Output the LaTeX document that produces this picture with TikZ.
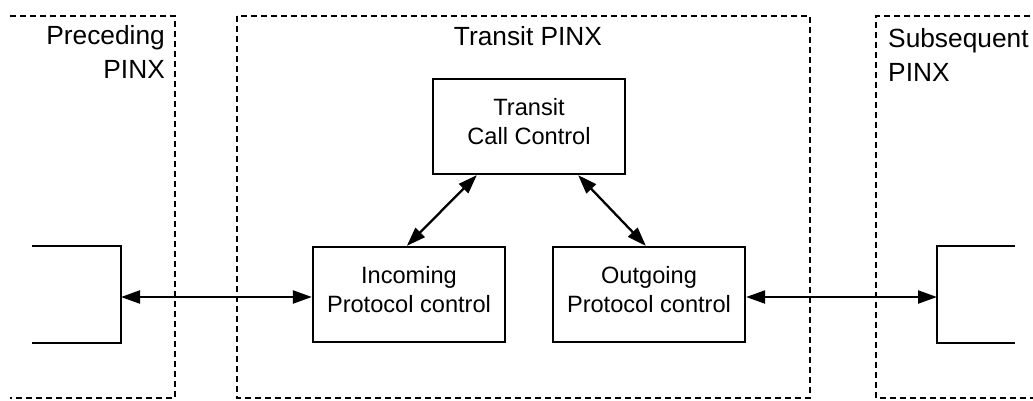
\documentclass[tikz,border=0pt]{standalone}
\usepackage{fontspec}
\setmainfont{Liberation Sans}
\usetikzlibrary{arrows.meta,calc}
\begin{document}
\begin{tikzpicture}[x=1pt,y=-1pt,
  zone/.style={line width=2pt,dash pattern=on 6pt off 4pt},
  block/.style={draw,line width=2.3pt,inner sep=0pt,minimum width=192pt,minimum height=95pt,
    align=center,font=\fontsize{23.6}{29}\selectfont,
    execute at end node={\rule[-11pt]{0pt}{0pt}}},
  stub/.style={line width=2.3pt},
  link/.style={line width=2.3pt,{Triangle[length=19pt,width=13pt]}-{Triangle[length=19pt,width=13pt]}},
  lbl/.style={inner sep=0pt,font=\fontsize{26.3}{33.5}\selectfont}]
\useasboundingbox (0,0) rectangle (1033,400);
% dashed zones
\draw[zone] (10,16) -- (175,16) -- (175,398) -- (10,398);
\draw[zone] (237,16) rectangle (810,398);
\draw[zone] (1040,16) -- (876,16) -- (876,398) -- (1040,398);
% labels
\node[lbl,align=right,anchor=north east] (lpre) at (165,25.5) {Preceding\\PINX};
\node[lbl,anchor=base] (ltr) at (528,45) {Transit PINX};
\node[lbl,align=left,anchor=north west] (lsub) at (888,28.5) {Subsequent\\PINX};
% blocks
\node[block] (tcc) at (529,126.5) {Transit\\Call Control};
\node[block] (inc) at (409,294.5) {Incoming\\Protocol control};
\node[block] (out) at (649,294.5) {Outgoing\\Protocol control};
% partial boxes
\draw[stub] (32,246) -- (121,246) -- (121,343) -- (32,343);
\coordinate (lp) at (121,297);
\draw[stub] (1015,246) -- (937,246) -- (937,343) -- (1015,343);
\coordinate (rp) at (937,297);
% connectors
\draw[link] (lp) -- (lp -| inc.west);
\draw[link] (rp -| out.east) -- (rp);
\draw[link] ($(tcc.south west)+(45,0)$) -- ($(inc.north west)+(95,0)$);
\draw[link] ($(tcc.south east)+(-48,0)$) -- ($(out.north west)+(94,0)$);
\end{tikzpicture}
\end{document}
